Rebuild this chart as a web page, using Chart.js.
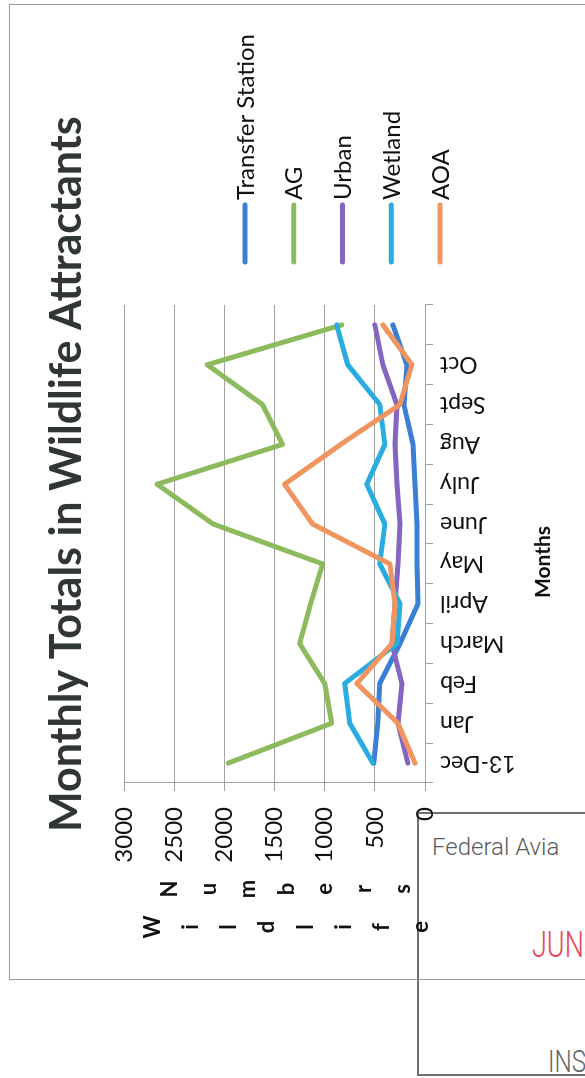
<!DOCTYPE html>
<html>
<head>
<meta charset="utf-8">
<title>Monthly Totals in Wildlife Attractants</title>
<script src="https://cdn.jsdelivr.net/npm/chart.js@4.4.1/dist/chart.umd.min.js"></script>
<style>
  html, body { margin: 0; padding: 0; background: #fff; }
  body { width: 585px; height: 1078px; position: relative; overflow: hidden; }
  #form {
    position: absolute; left: 417px; top: 812px; width: 420px; height: 264px;
    box-sizing: border-box; border: 2px solid #707070; background: #fff;
  }
  .formText { position: absolute; white-space: nowrap; font-family: Roboto, sans-serif; font-weight: 300; line-height: 1; }
  #agency { left: 432px; top: 835px; font-size: 24px; color: #5a5a5a; }
  #stamp { left: 532px; top: 927px; font-size: 36px; color: #e4475d; transform: scaleX(0.75); transform-origin: 0 0; }
  #ins { left: 548px; top: 1046px; font-size: 31px; color: #666; transform: scaleX(0.78); transform-origin: 0 0; }
  /* the chart sheet is laid out landscape and turned a quarter turn on the page;
     it is transparent so the form underneath shows through */
  #sheet {
    position: absolute; left: 10px; top: 979px;
    width: 974px; height: 665px;
    transform-origin: 0 0; transform: rotate(-90deg);
    box-shadow: 0 0 0 1px #9c9c9c; background: transparent;
  }
  #sheet canvas { display: block; }
</style>
</head>
<body>
<div id="form"></div>
<div class="formText" id="agency">Federal Avia</div>
<div class="formText" id="stamp">JUN</div>
<div class="formText" id="ins">INS</div>
<div id="sheet"><canvas id="chart" width="974" height="665"></canvas></div>
<script>
// ---- data ----
const chartTitle = 'Monthly Totals in Wildlife Attractants';
const months = ['13-Dec', 'Jan', 'Feb', 'March', 'April', 'May', 'June', 'July', 'Aug', 'Sept', 'Oct', ''];
const seriesNames = ['Transfer Station', 'AG', 'Urban', 'Wetland', 'AOA'];
const transferStation = [510, 470, 450, 250, 70, 80, 80, 100, 120, 210, 180, 320];
const ag = [1960, 930, 1000, 1250, 1140, 1020, 2110, 2670, 1420, 1620, 2170, 830];
const urban = [170, 270, 230, 330, 300, 270, 250, 280, 300, 280, 420, 500];
const wetland = [520, 750, 800, 280, 250, 450, 400, 580, 400, 450, 770, 880];
const aoa = [100, 270, 680, 330, 300, 350, 1120, 1400, 840, 250, 130, 420];
const valueMin = 0, valueMax = 3000, valueStep = 500;
const axisNameColumns = ['Wildlife', 'Numbers'];
const xAxisName = 'Months';

const seriesValues = [transferStation, ag, urban, wetland, aoa];
const seriesColors = ['#3a7fd6', '#8cba5c', '#8466c2', '#29ade0', '#f0955f'];

const FONT = 'Lato, "Open Sans", sans-serif';

// title, axis names and legend are painted around the plot area
const decor = {
  id: 'decor',
  afterDraw(chart) {
    const { ctx, chartArea: a } = chart;
    ctx.save();

    // chart title
    ctx.fillStyle = '#2f3633';
    ctx.font = 'bold 43px ' + FONT;
    ctx.textAlign = 'left';
    ctx.textBaseline = 'alphabetic';
    ctx.fillText(chartTitle, a.left - 49, 71);

    // value axis name, written as two stacked columns of letters
    ctx.fillStyle = '#111';
    ctx.font = 'bold 22px ' + FONT;
    ctx.textAlign = 'center';
    ctx.textBaseline = 'middle';
    const mid = (a.top + a.bottom) / 2 + 12;
    const colX = [a.left - 144, a.left - 106];
    const steps = [38.3, 38.8];
    axisNameColumns.forEach((word, c) => {
      const chars = Array.from(word);
      chars.forEach((ch, k) => {
        ctx.fillText(ch, colX[c], mid + (k - (chars.length - 1) / 2) * steps[c]);
      });
    });

    // category axis name, below the month labels
    ctx.font = 'bold 21px ' + FONT;
    ctx.fillText(xAxisName, (a.left + a.right) / 2 - 18, a.bottom + 118);

    // legend: one short line per series with its name
    ctx.font = '24px ' + FONT;
    ctx.textAlign = 'left';
    ctx.lineCap = 'round';
    ctx.lineWidth = 5;
    chart.data.datasets.forEach((ds, i) => {
      const y = a.top + 121 + i * 48.75;
      const x0 = a.right + 43;
      ctx.strokeStyle = ds.borderColor;
      ctx.beginPath();
      ctx.moveTo(x0, y);
      ctx.lineTo(x0 + 57, y);
      ctx.stroke();
      ctx.fillStyle = '#111';
      ctx.fillText(ds.label, x0 + 62, y + 1);
    });
    ctx.restore();
  }
};

const datasets = seriesNames.map((name, i) => ({
  label: name,
  data: seriesValues[i],
  borderColor: seriesColors[i],
  backgroundColor: seriesColors[i],
  borderWidth: 5,
  pointRadius: 0,
  pointHoverRadius: 0,
  tension: 0,
  borderJoinStyle: 'round',
  borderCapStyle: 'round',
  order: seriesNames.length - 1 - i
}));

const gridColor = '#a2a2a2';

new Chart(document.getElementById('chart'), {
  type: 'line',
  data: { labels: months, datasets },
  options: {
    responsive: false,
    animation: false,
    devicePixelRatio: 1,
    layout: { padding: { top: 114, right: 300, left: 0, bottom: 0 } },
    plugins: {
      legend: { display: false },
      title: { display: false },
      tooltip: { enabled: false }
    },
    scales: {
      x: {
        offset: true,
        grid: { offset: true, drawOnChartArea: false, drawTicks: true, tickLength: 8, color: gridColor },
        border: { display: true, color: gridColor, width: 1 },
        ticks: {
          autoSkip: false, minRotation: 90, maxRotation: 90, padding: 7,
          font: { family: FONT, size: 23 }, color: '#111'
        },
        afterFit(scale) { scale.height = 250; }
      },
      y: {
        min: valueMin, max: valueMax,
        ticks: {
          stepSize: valueStep, padding: 16, color: '#111',
          font: { family: FONT, size: 24 },
          callback: (v) => String(v)
        },
        grid: { color: gridColor, lineWidth: 1, tickLength: 8 },
        border: { display: true, color: gridColor, width: 1 },
        afterFit(scale) { scale.width = 196; }
      }
    }
  },
  plugins: [decor]
});
</script>
</body>
</html>
